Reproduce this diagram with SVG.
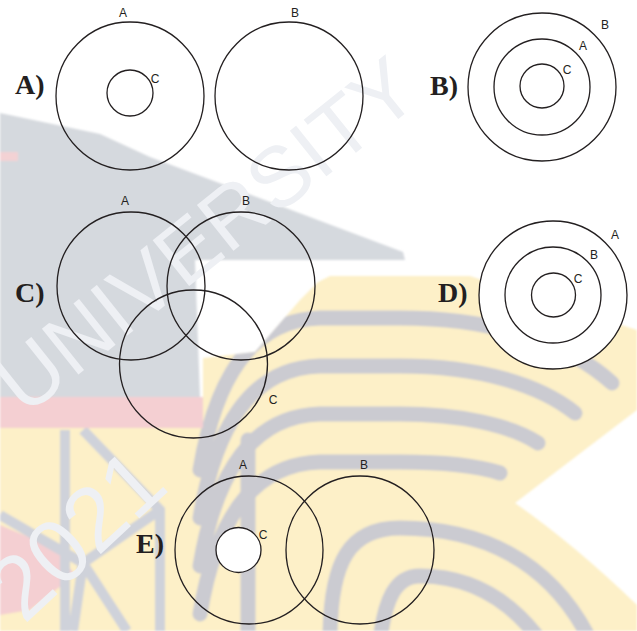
<svg xmlns="http://www.w3.org/2000/svg" width="637" height="631" viewBox="0 0 637 631">
<style>
.c{fill:none;stroke:#231f20;stroke-width:1.3}
.cw{fill:#ffffff;stroke:#231f20;stroke-width:1.3}
.lb{font-family:"Liberation Sans",Arial,sans-serif;font-size:12px;fill:#231f20;text-anchor:middle}
.pl{font-family:"Liberation Serif","Times New Roman",serif;font-size:28px;font-weight:bold;fill:#231f20}
.band{fill:none;stroke:#cbcbd1;stroke-width:15;stroke-linecap:round}
.star{fill:none;stroke:#cfd2da;stroke-width:10;stroke-linecap:butt}
.wm{font-family:"Liberation Sans",Arial,sans-serif;fill:#eef0f4}
</style>
<defs>
<filter id="soft" x="-5%" y="-5%" width="110%" height="110%"><feGaussianBlur stdDeviation="1.2"/></filter>
<clipPath id="yclip"><path d="M0 428 L203 428 L203 358 L255 352 L300 300 L318 282 L330 276 L470 276 L637 330 L637 410 L515 503 Q575 545 637 605 L637 631 L0 631 Z"/></clipPath>
</defs>
<rect width="637" height="631" fill="#ffffff"/>
<g id="watermark">
<g filter="url(#soft)">
<path d="M0 113 L100 134 L150 157 L403 252 L405 260 L195 260 L200 397 L0 397 Z" fill="#d5d9de"/>
<rect x="0" y="152" width="18" height="9" fill="#f3d2d4"/>
<rect x="0" y="397" width="205" height="31" fill="#f4cfd2"/>
<path d="M0 428 L203 428 L203 358 L255 352 L300 300 L318 282 L330 276 L470 276 L637 330 L637 410 L515 503 Q575 545 637 605 L637 631 L0 631 Z" fill="#fdf0c8"/>
<path d="M0 525 L55 548 L75 575 L30 610 L0 615 Z" fill="#f4cfd2"/>
<g clip-path="url(#yclip)">
<path class="band" d="M200 470 C215 380 250 320 320 318 L400 318 C500 318 570 345 612 383"/>
<path class="band" d="M200 518 C215 428 250 368 320 366 L400 366 C480 366 540 385 575 413"/>
<path class="band" d="M200 566 C215 476 250 416 320 414 L400 414 C460 414 510 425 538 443"/>
<path class="band" d="M200 614 C215 524 250 464 320 462 L400 462 C440 462 475 465 500 473"/>
<path class="band" d="M330 640 C330 560 350 528 400 528 C480 528 550 560 590 640"/>
<path class="band" d="M380 640 C385 600 395 576 420 576 C470 576 510 600 540 640"/>
<path class="band" d="M248 440 L248 640"/>
<path class="star" d="M65 430 L65 631"/>
<path class="star" d="M83 430 L160 510 L160 631"/>
<path class="star" d="M0 515 L83 563 L160 510"/>
<path class="star" d="M83 563 L73 631 M83 563 L127 631"/>
</g>
</g>
<text class="wm" font-size="85" transform="translate(25,417) rotate(-38.6)">UNIVERSITY</text>
<text class="wm" font-size="90" transform="translate(24,625) rotate(-42.8)">2021</text>
</g>
<g id="panel-A">
<text class="pl" x="15" y="94">A)</text>
<g id="A-setA"><circle class="c" cx="130" cy="96" r="74"/><text class="lb" x="123" y="16.5">A</text></g>
<g id="A-setC"><circle class="c" cx="130" cy="93" r="23"/><text class="lb" x="155" y="83">C</text></g>
<g id="A-setB"><circle class="c" cx="289" cy="96" r="74"/><text class="lb" x="295" y="16.5">B</text></g>
</g>
<g id="panel-B">
<text class="pl" x="430" y="95">B)</text>
<g id="B-setB"><circle class="c" cx="542" cy="87" r="74"/><text class="lb" x="605" y="29">B</text></g>
<g id="B-setA"><circle class="c" cx="542" cy="87" r="48"/><text class="lb" x="583" y="50">A</text></g>
<g id="B-setC"><circle class="c" cx="542" cy="86" r="22"/><text class="lb" x="567" y="74">C</text></g>
</g>
<g id="panel-C">
<text class="pl" x="15" y="302">C)</text>
<g id="C-setA"><circle class="c" cx="131" cy="286" r="74"/><text class="lb" x="125" y="205">A</text></g>
<g id="C-setB"><circle class="c" cx="241" cy="286" r="74"/><text class="lb" x="246" y="205">B</text></g>
<g id="C-setC"><circle class="c" cx="193.5" cy="364" r="74"/><text class="lb" x="273" y="404">C</text></g>
</g>
<g id="panel-D">
<text class="pl" x="438" y="302">D)</text>
<g id="D-setA"><circle class="cw" cx="553" cy="295" r="74"/><text class="lb" x="615" y="239">A</text></g>
<g id="D-setB"><circle class="c" cx="553" cy="295" r="48"/><text class="lb" x="594" y="259">B</text></g>
<g id="D-setC"><circle class="c" cx="553.5" cy="295" r="22"/><text class="lb" x="578" y="283">C</text></g>
</g>
<g id="panel-E">
<text class="pl" x="136" y="553">E)</text>
<g id="E-setA"><circle class="c" cx="249" cy="550" r="74"/><text class="lb" x="243" y="469">A</text></g>
<g id="E-setB"><circle class="c" cx="360" cy="550" r="74"/><text class="lb" x="364" y="469">B</text></g>
<g id="E-setC"><circle class="cw" cx="238.5" cy="550" r="22.5"/><text class="lb" x="263" y="539">C</text></g>
</g>
</svg>
